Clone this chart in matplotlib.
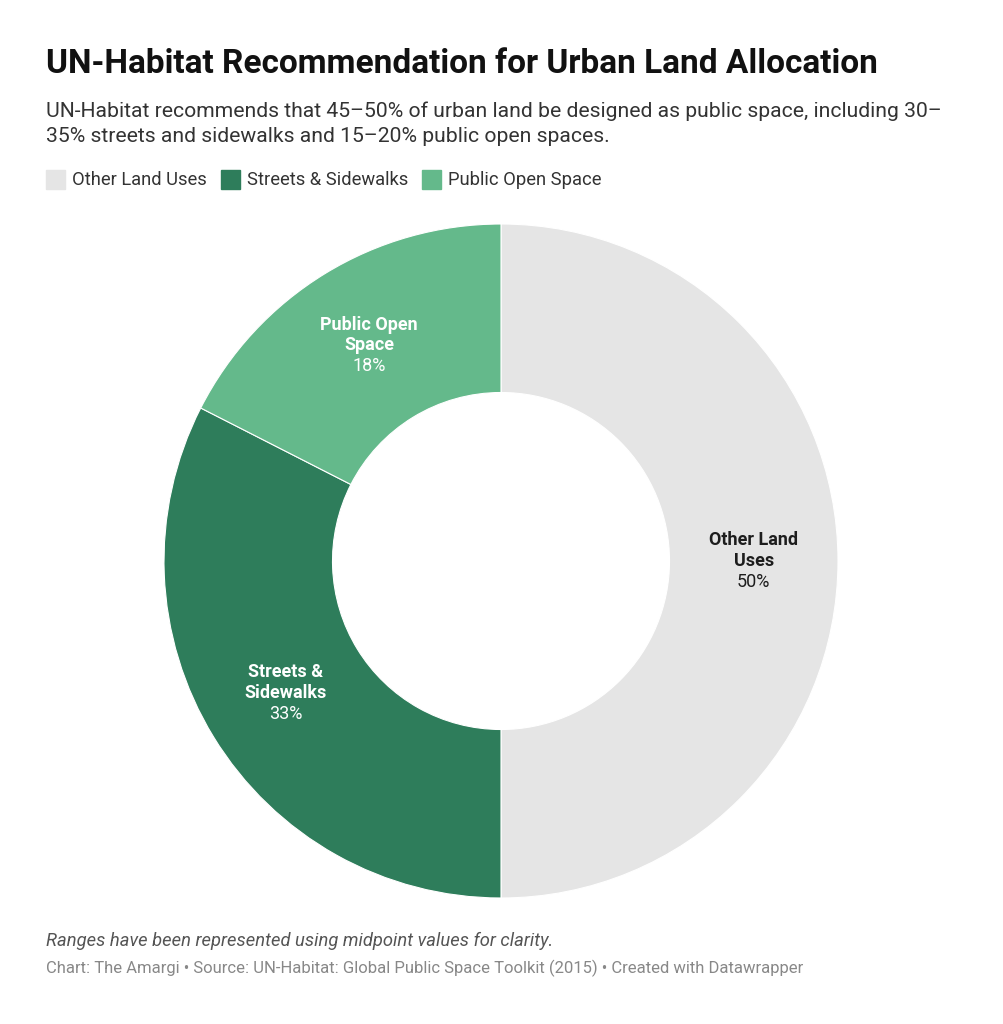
import matplotlib.pyplot as plt
import numpy as np

plt.rcParams['font.family'] = ['Roboto', 'DejaVu Sans']

# data (midpoints of the recommended ranges)
categories = ['Other Land Uses', 'Streets & Sidewalks', 'Public Open Space']
wrapped = ['Other Land\nUses', 'Streets &\nSidewalks', 'Public Open\nSpace']
values = [50, 32.5, 17.5]
colors = ['#e5e5e5', '#2e7d5b', '#64b98b']
label_colors = ['#1d1d1d', '#ffffff', '#ffffff']

W, H = 1004, 1024
fig = plt.figure(figsize=(W / 100, H / 100), dpi=100)

# donut axes, placed in pixel terms
cx, cy, R = 501, 561, 337
ax = fig.add_axes([(cx - R) / W, (H - cy - R) / H, 2 * R / W, 2 * R / H])
wedges, _ = ax.pie(values, colors=colors, startangle=90, counterclock=False,
                   radius=1, wedgeprops=dict(width=0.5, edgecolor='white', linewidth=0.8))
ax.set_xlim(-1, 1)
ax.set_ylim(-1, 1)
ax.set_aspect('equal')
ax.axis('off')

# labels inside the ring
total = sum(values)
for w, name, v, c in zip(wedges, wrapped, values, label_colors):
    ang = np.deg2rad((w.theta1 + w.theta2) / 2)
    x, y = 0.75 * np.cos(ang), 0.75 * np.sin(ang)
    l1, l2 = name.split('\n')
    pct = f"{int(v / total * 100 + 0.5)}%"
    for txt, dy, wt in [(l1, 15, 'bold'), (l2, 0, 'bold'), (pct, -15, 'normal')]:
        ax.annotate(txt, (x, y), xytext=(0, dy), textcoords='offset points',
                    ha='center', va='center', fontsize=13, fontweight=wt, color=c)

# header
fig.text(46 / W, 1 - 64 / H, 'UN-Habitat Recommendation for Urban Land Allocation',
         fontsize=24, fontweight='bold', color='#111111', va='center', ha='left')
fig.text(46 / W, 1 - 111 / H,
         'UN-Habitat recommends that 45–50% of urban land be designed as public space, including 30–',
         fontsize=15.2, color='#333333', va='center', ha='left')
fig.text(46 / W, 1 - 137 / H, '35% streets and sidewalks and 15–20% public open spaces.',
         fontsize=15.2, color='#333333', va='center', ha='left')

# legend
lx = [46, 221, 422]
for x0, cat, col in zip(lx, categories, colors):
    fig.patches.append(plt.Rectangle((x0 / W, 1 - 189 / H), 19 / W, 19 / H,
                                     transform=fig.transFigure, color=col))
    fig.text((x0 + 26) / W, 1 - 180 / H, cat, fontsize=13.2, color='#333333',
             va='center', ha='left')

# footer
fig.text(46 / W, 1 - 941 / H, 'Ranges have been represented using midpoint values for clarity.',
         fontsize=13.2, style='italic', color='#555555', va='center', ha='left')
fig.text(46 / W, 1 - 968 / H,
         'Chart: The Amargi • Source: UN-Habitat: Global Public Space Toolkit (2015) • Created with Datawrapper',
         fontsize=12, color='#888888', va='center', ha='left')

fig.savefig('out.png', dpi=100, facecolor='white')
